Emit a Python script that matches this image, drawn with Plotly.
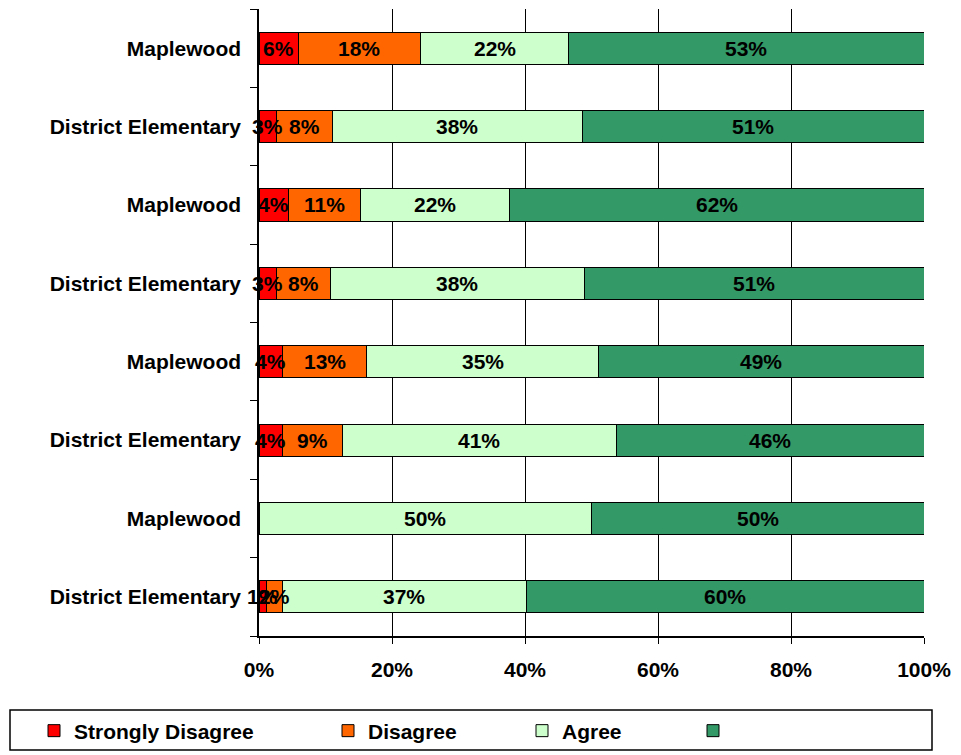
import plotly.graph_objects as go

# ---- data (top-to-bottom order) ----
categories = ["Maplewood", "District Elementary", "Maplewood", "District Elementary",
              "Maplewood", "District Elementary", "Maplewood", "District Elementary"]
strongly_disagree = [5.9, 2.6, 4.4, 2.6, 3.6, 3.6, 0.0, 1.1]
disagree = [18.4, 8.4, 10.9, 8.1, 12.6, 8.9, 0.0, 2.4]
agree = [22.3, 37.6, 22.4, 38.2, 34.9, 41.2, 50.0, 36.7]
strongly_agree = [53.4, 51.4, 62.3, 51.1, 48.9, 46.3, 50.0, 59.8]
series_names = ["Strongly Disagree", "Disagree", "Agree", ""]
series_colors = ["#FF0000", "#FF6600", "#CCFFCC", "#339966"]
x_ticks = [0, 20, 40, 60, 80, 100]
x_tick_labels = ["0%", "20%", "40%", "60%", "80%", "100%"]

FONT = "Liberation Sans, Arial, sans-serif"
FS = 21

OFF = 8  # page body margin offset
W, H = 961 - OFF, 755 - OFF
ML, MR, MT, MB = 259 - OFF, 961 - 924, 9 - OFF, 755 - 636
PW = W - ML - MR
PH = H - MT - MB

def px_x(p):
    return (p - OFF - ML) / PW

def px_y(p):
    return (MT + PH - (p - OFF)) / PH

ypos = list(range(len(categories)))
series = [strongly_disagree, disagree, agree, strongly_agree]

fig = go.Figure()
legend_x_px = [34, 328, 522, 693]
for i, (vals, name, col) in enumerate(zip(series, series_names, series_colors)):
    fig.add_trace(go.Bar(
        y=ypos, x=vals, orientation="h", name=name,
        marker=dict(color=col,
                    line=dict(color="black", width=[1 if v > 0 else 0 for v in vals])),
        width=0.41, hoverinfo="x",
        legend="legend" if i == 0 else f"legend{i+1}",
    ))

# value labels
annotations = []
for r in range(len(categories)):
    cum = 0.0
    for vals in series:
        v = vals[r]
        if v > 0:
            annotations.append(dict(
                x=cum + v / 2, y=ypos[r], xref="x", yref="y",
                text=f"{v:.0f}%", showarrow=False,
                font=dict(family=FONT, size=FS, color="black", weight="bold"),
                xanchor="center", yanchor="middle"))
        cum += v

legend_common = dict(
    orientation="h", yanchor="middle", y=px_y(731), xanchor="left",
    bgcolor="rgba(0,0,0,0)", borderwidth=0,
    font=dict(family=FONT, size=FS, color="black", weight="bold"),
)
layout_legends = {}
for i, lx in enumerate(legend_x_px):
    key = "legend" if i == 0 else f"legend{i+1}"
    layout_legends[key] = dict(legend_common, x=px_x(lx))

fig.update_layout(
    width=W, height=H,
    margin=dict(l=ML, r=MR, t=MT, b=MB, pad=0),
    barmode="stack",
    bargap=0.59,
    plot_bgcolor="white", paper_bgcolor="white",
    font=dict(family=FONT, size=FS, color="black", weight="bold"),
    showlegend=True,
    annotations=annotations,
    shapes=[dict(type="rect", xref="paper", yref="paper",
                 x0=px_x(10), x1=px_x(932), y0=px_y(750), y1=px_y(710),
                 line=dict(color="black", width=1.5), fillcolor="rgba(0,0,0,0)")],
    **layout_legends,
)

fig.update_xaxes(
    range=[0, 100], tickmode="array", tickvals=x_ticks, ticktext=x_tick_labels,
    showgrid=True, gridcolor="black", gridwidth=1,
    showline=True, linecolor="black", linewidth=1.5,
    ticks="outside", ticklen=6, tickcolor="black", tickwidth=1,
    ticklabelstandoff=8, zeroline=False,
    tickfont=dict(family=FONT, size=FS, color="black", weight="bold"),
)
fig.update_yaxes(
    range=[len(categories) - 0.5, -0.5],
    tickmode="array", tickvals=ypos, ticktext=categories,
    ticks="", showgrid=False, zeroline=False,
    showline=True, linecolor="black", linewidth=1.5,
    ticklabelstandoff=12,
    minor=dict(tickvals=[k - 0.5 for k in range(len(categories) + 1)],
               ticks="outside", ticklen=7, tickcolor="black", tickwidth=1,
               showgrid=False),
    tickfont=dict(family=FONT, size=FS, color="black", weight="bold"),
)

fig.write_html("out.html")
